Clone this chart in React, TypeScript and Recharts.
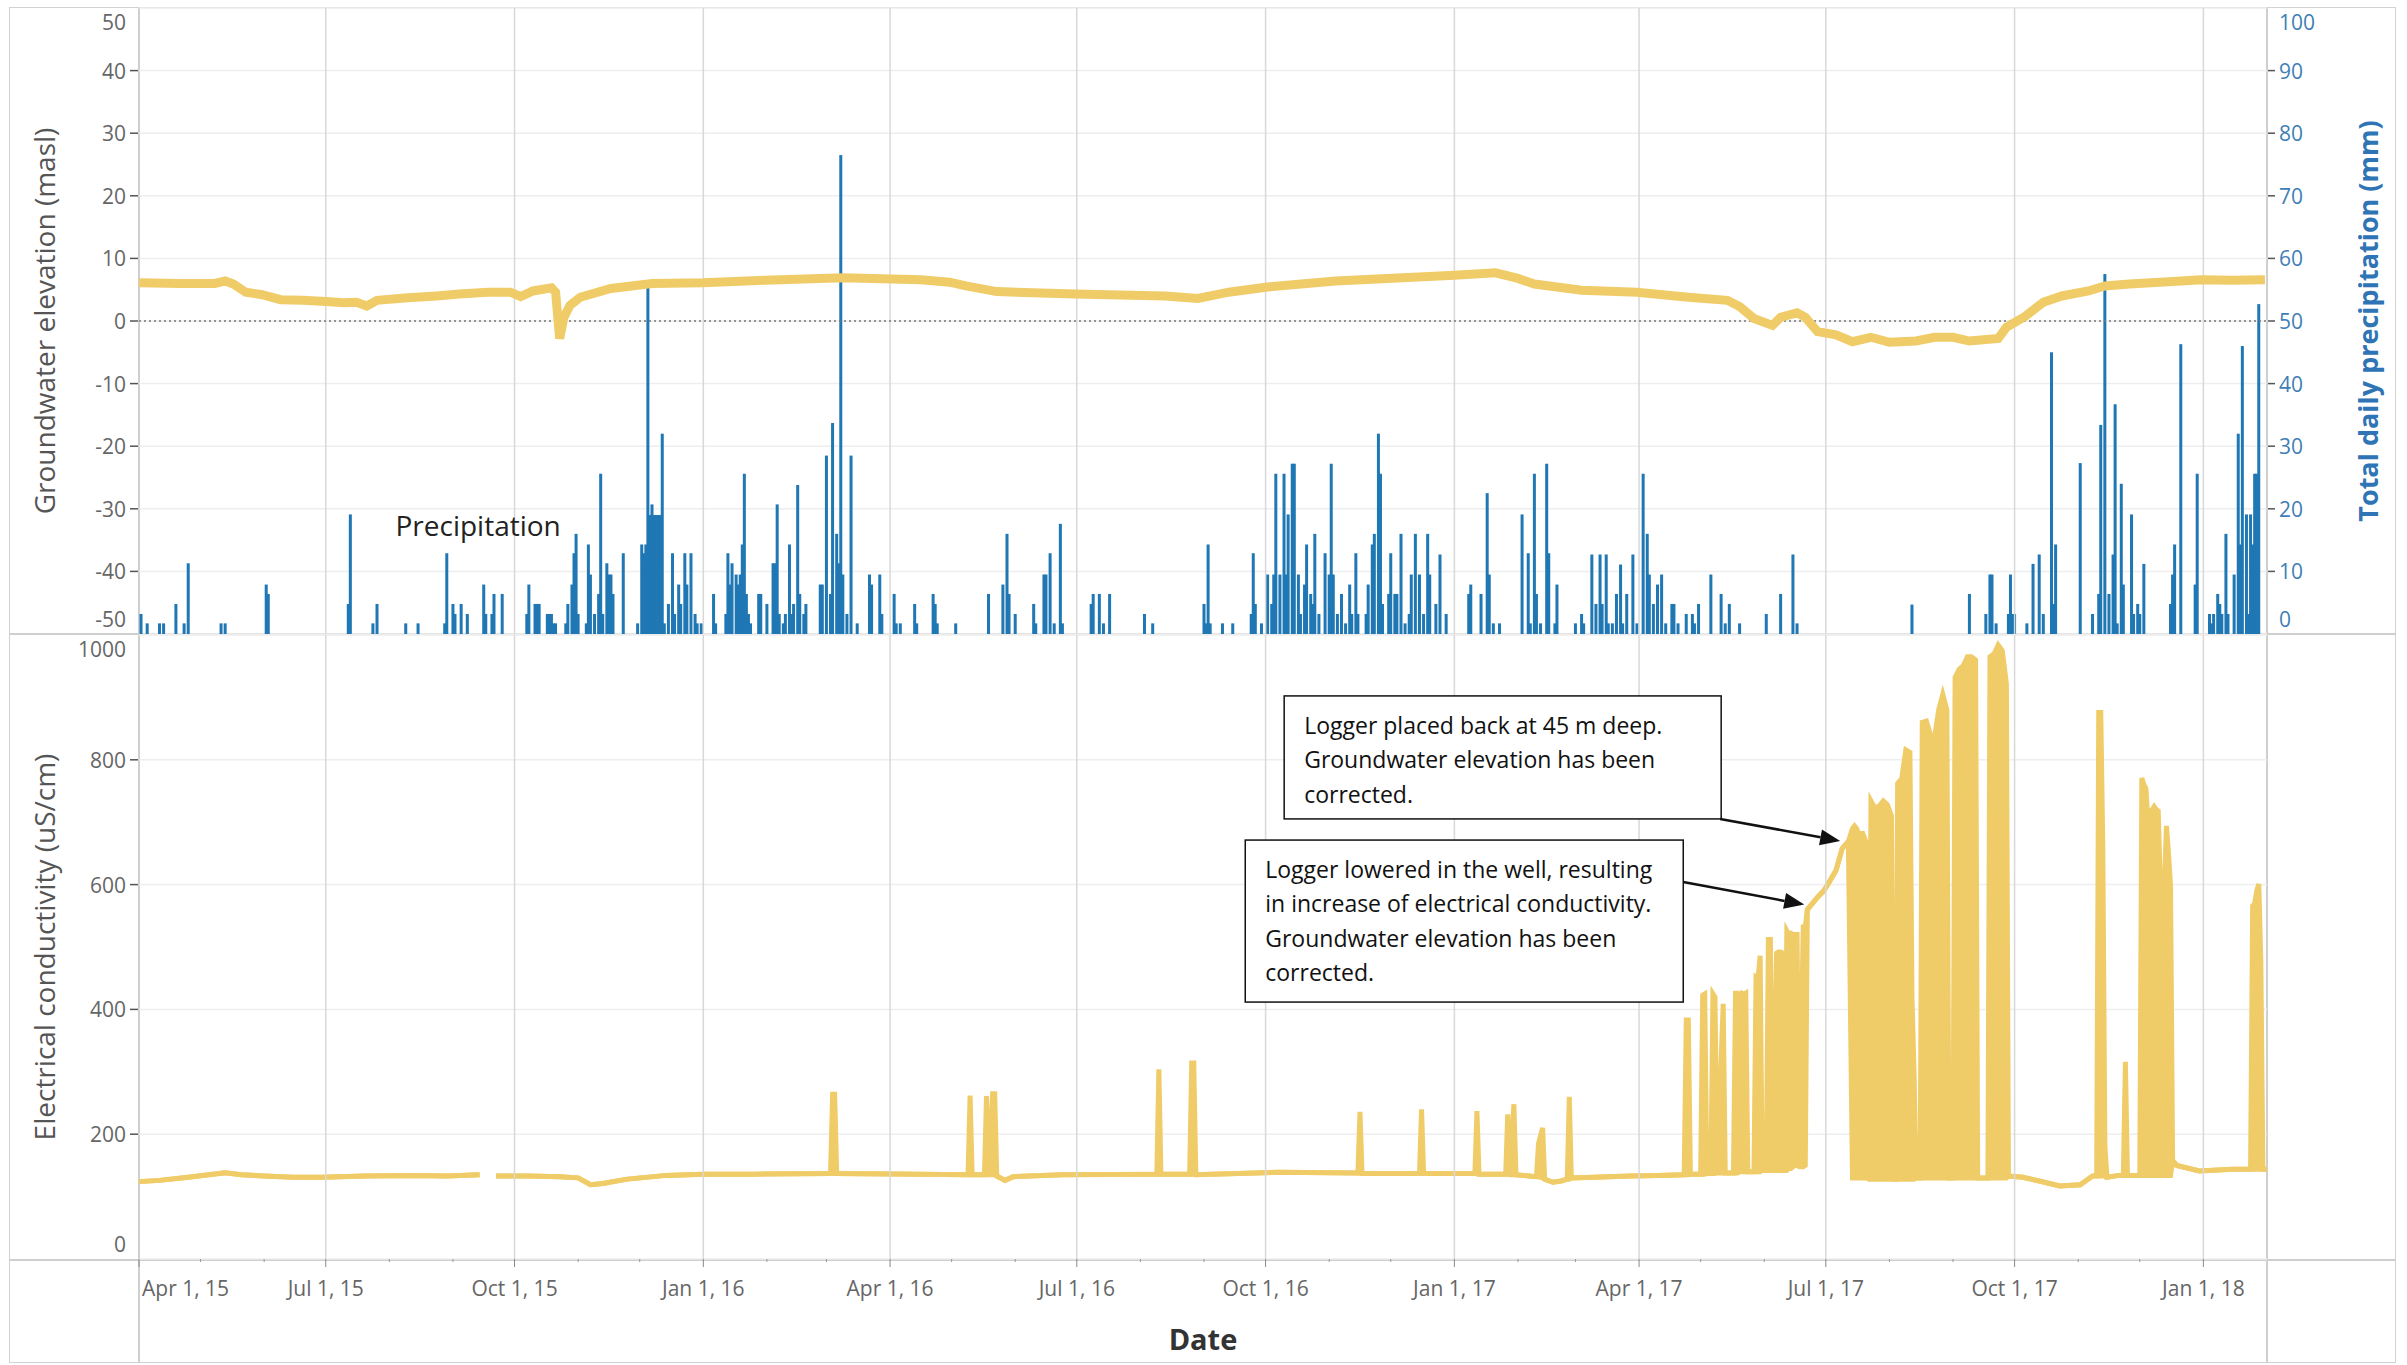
import React from 'react'
import { ComposedChart, Line, Bar, Area, XAxis, YAxis, CartesianGrid, ReferenceLine, ReferenceDot } from 'recharts'

// all x values are days counted from Apr 1, 2015
const START = '2015-04-01'
const END = '2018-02-01'
const dayOf = (iso: string) => Math.round((Date.parse(iso) - Date.parse(START)) / 86400000)

const QUARTER_DATES = ['2015-04-01', '2015-07-01', '2015-10-01', '2016-01-01', '2016-04-01', '2016-07-01', '2016-10-01', '2017-01-01', '2017-04-01', '2017-07-01', '2017-10-01', '2018-01-01']
const QUARTER_LABELS = ['Apr 1, 15', 'Jul 1, 15', 'Oct 1, 15', 'Jan 1, 16', 'Apr 1, 16', 'Jul 1, 16', 'Oct 1, 16', 'Jan 1, 17', 'Apr 1, 17', 'Jul 1, 17', 'Oct 1, 17', 'Jan 1, 18']

const GW_TICKS = [-50, -40, -30, -20, -10, 0, 10, 20, 30, 40, 50]
const PRECIP_TICKS = [0, 10, 20, 30, 40, 50, 60, 70, 80, 90, 100]
const EC_TICKS = [0, 200, 400, 600, 800, 1000]

// groundwater elevation (masl)
const GW_DAY = [0, 20, 37, 42, 46, 52, 60, 69, 80, 91, 100, 106, 111, 116, 131, 145, 156, 170, 181, 186, 192, 201, 203, 205, 207, 210, 215, 230, 250, 275, 305, 343, 381, 395, 403, 418, 456, 500, 516, 531, 549, 583, 641, 661, 672, 680, 703, 730, 755, 774, 780, 787, 796, 800, 808, 812, 818, 827, 835, 844, 853, 866, 875, 884, 892, 906, 910, 919, 928, 937, 950, 958, 970, 991, 1005, 1020, 1036]
const GW_MASL = [6.1, 6.0, 6.0, 6.4, 5.9, 4.6, 4.2, 3.4, 3.3, 3.1, 2.9, 3.0, 2.4, 3.3, 3.7, 4.0, 4.3, 4.6, 4.6, 3.9, 4.8, 5.3, 4.6, -2.8, 0.5, 2.5, 3.8, 5.2, 6.0, 6.1, 6.5, 6.9, 6.6, 6.2, 5.6, 4.7, 4.3, 4.0, 3.6, 4.6, 5.4, 6.4, 7.3, 7.7, 6.8, 5.9, 4.9, 4.6, 3.8, 3.3, 2.3, 0.4, -0.7, 0.6, 1.3, 0.6, -1.7, -2.2, -3.3, -2.6, -3.4, -3.2, -2.6, -2.6, -3.2, -2.8, -1.0, 0.7, 3.0, 4.0, 4.8, 5.6, 5.9, 6.3, 6.6, 6.5, 6.6]

// total daily precipitation (mm)
const PRECIP_DAY = [1, 4, 10, 12, 18, 22, 24, 40, 42, 62, 63, 102, 103, 114, 116, 130, 136, 149, 150, 153, 154, 157, 160, 168, 169, 172, 173, 177, 189, 190, 193, 194, 195, 199, 200, 201, 202, 203, 208, 209, 211, 212, 213, 214, 218, 219, 220, 222, 224, 225, 226, 228, 229, 230, 231, 236, 243, 245, 246, 247, 248, 249, 250, 251, 252, 253, 254, 255, 256, 258, 260, 261, 263, 264, 266, 267, 269, 271, 272, 274, 280, 281, 286, 287, 288, 289, 291, 292, 293, 294, 295, 296, 297, 298, 302, 303, 306, 309, 310, 311, 312, 314, 315, 317, 318, 319, 321, 322, 324, 325, 332, 333, 335, 337, 338, 340, 341, 342, 343, 345, 347, 350, 356, 357, 361, 362, 368, 369, 371, 378, 379, 387, 388, 389, 398, 414, 421, 423, 424, 427, 436, 437, 441, 442, 444, 446, 449, 450, 464, 465, 468, 470, 473, 490, 494, 519, 520, 521, 522, 528, 533, 542, 543, 544, 547, 550, 552, 553, 554, 556, 558, 559, 560, 562, 563, 565, 566, 568, 569, 571, 572, 573, 575, 578, 580, 581, 582, 584, 586, 588, 590, 591, 593, 594, 598, 599, 601, 602, 604, 605, 606, 609, 610, 612, 613, 615, 617, 619, 620, 622, 624, 626, 628, 629, 632, 634, 637, 648, 649, 654, 657, 658, 660, 663, 674, 677, 678, 680, 681, 683, 686, 687, 690, 691, 700, 703, 704, 708, 710, 712, 713, 715, 716, 718, 720, 722, 723, 725, 728, 730, 733, 735, 736, 738, 740, 742, 744, 747, 748, 750, 754, 757, 758, 760, 766, 771, 773, 775, 780, 793, 800, 806, 808, 864, 892, 900, 902, 903, 905, 911, 912, 913, 914, 920, 923, 926, 928, 932, 933, 934, 946, 952, 955, 956, 958, 960, 962, 963, 964, 966, 967, 971, 972, 974, 975, 977, 990, 991, 992, 995, 1002, 1003, 1009, 1010, 1011, 1013, 1014, 1015, 1017, 1018, 1021, 1023, 1024, 1025, 1027, 1028, 1029, 1030, 1031, 1032, 1033]
const PRECIP_MM = [3.2, 1.7, 1.7, 1.7, 4.8, 1.7, 11.3, 1.7, 1.7, 7.9, 6.4, 4.8, 19.1, 1.7, 4.8, 1.7, 1.7, 1.7, 12.9, 4.8, 3.2, 4.8, 3.2, 7.9, 3.2, 3.2, 6.4, 6.4, 3.2, 7.9, 4.8, 4.8, 4.8, 3.2, 3.2, 3.2, 1.7, 1.7, 1.7, 4.8, 7.9, 12.9, 16, 3.2, 1.7, 14.3, 9.5, 3.2, 6.4, 25.6, 3.2, 11.3, 9.5, 9.5, 6.4, 12.9, 1.7, 14.3, 12.9, 14.3, 56, 19, 20.7, 19, 19, 19, 19, 32, 1.7, 4.8, 12.9, 3.2, 7.9, 4.8, 12.9, 7.9, 12.9, 3.2, 1.7, 1.7, 6.4, 1.7, 3.2, 12.9, 7.9, 11.3, 9.5, 7.9, 9.5, 14.3, 25.6, 6.4, 3.2, 1.7, 6.4, 6.4, 4.8, 11.3, 11.3, 20.7, 3.2, 1.7, 3.2, 14.3, 3.2, 4.8, 23.8, 6.4, 3.2, 4.8, 7.9, 7.9, 28.5, 6.4, 33.7, 16, 11.3, 76.5, 9.5, 3.2, 28.5, 1.7, 9.5, 7.9, 9.5, 3.2, 6.4, 1.7, 1.7, 4.8, 1.7, 6.4, 4.8, 1.7, 1.7, 6.4, 7.9, 16, 6.4, 3.2, 4.8, 1.7, 9.5, 9.5, 12.9, 1.7, 17.6, 1.7, 4.8, 6.4, 6.4, 1.7, 6.4, 3.2, 1.7, 4.8, 1.7, 14.3, 1.7, 1.7, 1.7, 3.2, 12.9, 4.8, 1.7, 9.5, 4.8, 9.5, 25.6, 9.5, 25.6, 9.5, 19.1, 27.2, 27.2, 9.5, 3.2, 7.9, 14.3, 6.4, 4.8, 16, 3.2, 12.9, 9.5, 27.2, 9.5, 3.2, 6.4, 1.7, 7.9, 3.2, 12.9, 3.2, 3.2, 7.9, 14.3, 16, 32, 25.6, 4.8, 6.4, 12.9, 6.4, 6.4, 16, 1.7, 3.2, 9.5, 16, 9.5, 3.2, 16, 9.5, 4.8, 12.7, 3.2, 6.4, 7.9, 6.4, 22.5, 9.5, 1.7, 1.7, 19.1, 12.9, 1.7, 25.6, 6.4, 1.7, 27.2, 12.9, 1.7, 7.9, 1.7, 3.2, 1.7, 12.7, 4.8, 12.7, 4.8, 12.7, 1.7, 1.7, 6.4, 11.1, 1.7, 6.4, 12.7, 1.7, 25.6, 16, 9.5, 4.8, 7.9, 9.5, 1.7, 4.8, 4.8, 1.7, 3.2, 3.2, 1.7, 4.8, 9.5, 6.4, 1.7, 4.8, 1.7, 3.2, 6.4, 12.7, 1.7, 4.7, 6.4, 3.2, 9.5, 9.5, 1.7, 3.2, 9.5, 3.2, 3.2, 1.7, 11.2, 12.7, 3.2, 45, 4.8, 14.3, 27.3, 3.2, 6.4, 33.4, 57.5, 6.4, 12.7, 36.7, 1.7, 24, 7.9, 19.1, 3.2, 4.8, 3.2, 11.2, 4.8, 9.5, 14.3, 46.3, 7.9, 25.6, 3.2, 1.7, 3.2, 6.4, 4.8, 3.2, 16, 3.2, 9.5, 32, 14.3, 46, 19.1, 3.2, 19.1, 14.3, 25.6, 25.6, 52.7]

// electrical conductivity (uS/cm): low / high reading of the day (high null = single reading)
const EC_DAY = [0, 10, 24, 42, 50, 61, 75, 89, 110, 135, 150, 166, 167, 173, 174, 190, 205, 214, 220, 226, 238, 257, 275, 300, 337, 338, 339, 340, 380, 404, 405, 406, 412, 413, 414, 416, 417, 418, 422, 426, 450, 496, 497, 498, 512, 513, 514, 515, 555, 594, 595, 596, 624, 625, 626, 651, 652, 653, 666, 667, 668, 670, 671, 681, 682, 684, 685, 689, 693, 696, 697, 698, 709, 727, 740, 753, 754, 755, 756, 761, 762, 763, 764, 766, 767, 768, 769, 772, 773, 777, 778, 779, 780, 781, 782, 783, 784, 787, 788, 789, 790, 791, 793, 794, 795, 796, 798, 799, 800, 801, 802, 803, 804, 805, 806, 807, 808, 809, 811, 812, 813, 815, 818, 821, 824, 827, 830, 833, 835, 836, 837, 838, 840, 842, 843, 844, 846, 848, 850, 852, 854, 855, 856, 857, 859, 861, 863, 864, 865, 866, 868, 869, 871, 873, 875, 877, 879, 881, 882, 884, 885, 887, 889, 891, 893, 895, 896, 901, 902, 904, 906, 908, 910, 911, 918, 926, 936, 946, 952, 954, 955, 956, 957, 958, 959, 965, 967, 968, 969, 975, 976, 977, 978, 979, 980, 981, 982, 983, 984, 985, 986, 987, 988, 989, 990, 991, 993, 1004, 1020, 1029, 1030, 1031, 1032, 1033, 1034, 1035, 1037]
const EC_LOW = [124, 126, 131, 138, 135, 133, 131, 131, 133, 134, 133, 135, null, null, 133, 133, 132, 130, 119, 121, 128, 134, 136, 136, 137, 137, 137, 137, 136, 135, 135, 135, 135, 135, 135, 135, 135, 133, 126, 132, 135, 136, 136, 136, 136, 136, 136, 135, 139, 138, 138, 137, 137, 137, 137, 137, 137, 136, 136, 136, 135, 135, 135, 132, 132, 130, 128, 123, 125, 128, 128, 130, 131, 133, 134, 135, 135, 135, 136, 136, 136, 136, 137, 137, 137, 137, 138, 138, 138, 138, 138, 138, 140, 140, 140, 140, 140, 140, 140, 140, 140, 142, 142, 142, 142, 142, 142, 142, 142, 142, 142, 142, 145, 145, 148, 150, 150, 148, 148, 150, 560, 568, 580, 590, 606, 623, 658, 669, 130, 130, 130, 130, 130, 130, 128, 128, 128, 128, 128, 128, 128, 128, 128, 128, 128, 128, 128, 128, 128, 130, 130, 130, 130, 130, 130, 130, 130, 130, 130, 130, 130, 130, 130, 130, 130, 130, 130, 130, 130, 130, 130, 130, 130, 133, 131, 125, 117, 119, 133, 133, 133, 133, 133, 133, 131, 134, 134, 134, 134, 134, 134, 134, 134, 134, 134, 134, 134, 134, 134, 134, 134, 134, 134, 134, 134, 158, 150, 141, 144, 144, 144, 144, 144, 144, 144, 144, 144]
const EC_HIGH = [null, null, null, null, null, null, null, null, null, null, null, null, null, null, null, null, null, null, null, null, null, null, null, null, null, 264, 264, null, null, null, 262, null, null, 261, null, 265, 265, null, null, null, null, null, 304, null, null, 314, 314, null, null, null, 236, null, null, 240, null, null, 237, null, null, 232, null, 248, null, null, 185, 210, null, null, null, null, 260, null, null, null, null, null, 383, 383, null, null, 423, 425, null, null, 425, 420, null, 409, null, null, 426, 426, 420, 426, 424, 426, null, null, 452, 450, 486, null, null, 512, 512, null, 490, 492, 492, 490, null, 526, 520, 522, 520, 520, 520, null, 532, 532, null, null, null, null, null, null, null, null, 690, 694, 690, 682, 682, 665, null, 734, 722, 726, 734, 728, 710, null, null, 762, 770, 816, 812, 420, 300, null, null, 860, 862, 840, 836, 880, 905, 880, null, null, 932, 945, 951, 965, 965, 960, null, null, 965, 970, 984, 975, 922, null, null, null, null, null, null, null, 876, 876, 658, 182, null, null, null, 316, null, null, 771, 760, 754, 700, 541, 720, 725, 720, 718, 600, 556, 600, 694, 650, 597, null, null, null, null, null, 566, 570, 590, 601, 476, null, null]

const X_END = dayOf(END)
const QUARTER_DAYS = QUARTER_DATES.map(dayOf)
const MONTH_DAYS: number[] = []
for (let y = 2015, m = 3; y < 2018 || m < 1; m++) {
  if (m > 11) { m = 0; y++ }
  MONTH_DAYS.push(Math.round((Date.UTC(y, m, 1) - Date.parse(START)) / 86400000))
  if (y === 2018 && m === 0) break
}

const topMap = new Map<number, any>()
GW_DAY.forEach((d, i) => topMap.set(d, { ...(topMap.get(d) || { day: d }), gw: GW_MASL[i] }))
PRECIP_DAY.forEach((d, i) => topMap.set(d, { ...(topMap.get(d) || { day: d }), precip: PRECIP_MM[i] }))
const topRows = Array.from(topMap.values()).sort((a, b) => a.day - b.day)

const ecRows = EC_DAY.map((d, i) => ({
  day: d,
  ec: EC_LOW[i] == null ? null : [EC_LOW[i], EC_HIGH[i] ?? EC_LOW[i]],
}))

const YELLOW = '#f0cc68'
const BLUE = '#1f77b4'
const FONT = '"Open Sans", "Noto Sans", sans-serif'
const GRID_V = '#d8d8d8'

const leftTick = (min: number, max: number) => (props: any) => {
  const { x, y, payload } = props
  const v = payload.value
  const dy = v === max ? 14 : v === min ? -15 : 0
  return (
    <g>
      {dy === 0 && <line x1={x - 9} x2={x - 1} y1={y} y2={y} stroke="#555" strokeWidth={1.5} />}
      <text x={x - 13} y={y + dy} textAnchor="end" dominantBaseline="central" fontSize={21} fill="#666" fontFamily={FONT}>{v}</text>
    </g>
  )
}

const rightTick = (props: any) => {
  const { x, y, payload } = props
  const v = payload.value
  const dy = v === 100 ? 14 : v === 0 ? -15 : 0
  return (
    <g>
      {dy === 0 && <line x1={x + 1} x2={x + 8} y1={y} y2={y} stroke="#555" strokeWidth={1.5} />}
      <text x={x + 12} y={y + dy} textAnchor="start" dominantBaseline="central" fontSize={21} fill="#3f7fb5" fontFamily={FONT}>{v}</text>
    </g>
  )
}

const dateTick = (props: any) => {
  const { x, y, payload } = props
  const qi = QUARTER_DAYS.indexOf(payload.value)
  if (qi < 0) return <line x1={x} x2={x} y1={y} y2={y + 3} stroke="#999" strokeWidth={1} />
  return (
    <g>
      <line x1={x} x2={x} y1={y} y2={y + 8} stroke="#888" strokeWidth={1} />
      <text x={qi === 0 ? x + 3 : x} y={y + 29} textAnchor={qi === 0 ? 'start' : 'middle'} dominantBaseline="central" fontSize={21} fill="#666" fontFamily={FONT}>
        {QUARTER_LABELS[qi]}
      </text>
    </g>
  )
}

const vTitle = (text: string, dx: number, color: string, weight: number, size: number) => (props: any) => {
  const vb = props.viewBox || { x: 0, y: 0, height: 0 }
  const cx = vb.x + dx
  const cy = vb.y + vb.height / 2
  return (
    <text x={cx} y={cy} transform={`rotate(-90 ${cx} ${cy})`} textAnchor="middle" dominantBaseline="central" fontSize={size} fontWeight={weight} fill={color} fontFamily={FONT}>
      {text}
    </text>
  )
}

const dateTitle = (props: any) => {
  const vb = props.viewBox || { x: 0, y: 0, width: 0 }
  return (
    <text x={vb.x + vb.width / 2} y={vb.y + 79} textAnchor="middle" dominantBaseline="central" fontSize={29} fontWeight={700} fill="#333" fontFamily={FONT}>
      Date
    </text>
  )
}

// daily bars: keep the library's x / y / height, only widen the stick a little
const PrecipBar = (p: any) => {
  if (!p.height || p.height <= 0) return null
  return <rect x={p.x + p.width / 2 - 1.5} y={p.y} width={3} height={p.height} fill={BLUE} />
}

function Callout({ cx, cy, lines, box }: { cx: number; cy: number; lines: string[]; box: { dx: number; dy: number; w: number; h: number; ax: number; ay: number } }) {
  const sx = cx + box.ax
  const sy = cy + box.ay
  const len = Math.hypot(cx - sx, cy - sy)
  const ux = (cx - sx) / len
  const uy = (cy - sy) / len
  const hb = 20
  const hw = 8
  const bx = cx - ux * hb
  const by = cy - uy * hb
  return (
    <g>
      <rect x={cx + box.dx} y={cy + box.dy} width={box.w} height={box.h} fill="#fff" stroke="#111" strokeWidth={1.5} />
      {lines.map((t, i) => (
        <text key={i} x={cx + box.dx + 20} y={cy + box.dy + 29 + i * 34.3} dominantBaseline="central" fontSize={23} fill="#111" fontFamily={FONT}>{t}</text>
      ))}
      <line x1={sx} y1={sy} x2={bx} y2={by} stroke="#111" strokeWidth={2.5} />
      <polygon points={`${cx},${cy} ${bx - uy * hw},${by + ux * hw} ${bx + uy * hw},${by - ux * hw}`} fill="#111" />
    </g>
  )
}

const paneLine = (style: React.CSSProperties) => <div style={{ position: 'absolute', background: '#cfcfcf', ...style }} />

export default function App() {
  return (
    <div style={{ position: 'absolute', left: 0, top: 0, width: 2407, height: 1365, background: '#fff', fontFamily: FONT }}>
      <div style={{ position: 'absolute', left: 9, top: 7, width: 2387, height: 1356, border: '1.5px solid #d2d2d2', boxSizing: 'border-box' }} />
      {paneLine({ left: 9, top: 633, width: 2387, height: 2 })}
      {paneLine({ left: 9, top: 1259, width: 2387, height: 2 })}
      {paneLine({ left: 138, top: 7, width: 1.5, height: 1356 })}
      {paneLine({ left: 2266, top: 7, width: 1.5, height: 1356 })}

      <div style={{ position: 'absolute', left: 0, top: 0 }}>
        <ComposedChart width={2407} height={636} data={topRows} margin={{ top: 8, right: 0, bottom: 2, left: 0 }}>
          <CartesianGrid vertical={false} stroke="#eeeeee" strokeWidth={1.5} />
          <XAxis type="number" dataKey="day" domain={[0, X_END]} ticks={QUARTER_DAYS} hide />
          <YAxis domain={[-50, 50]} ticks={GW_TICKS} width={139} axisLine={false} tickLine={false} tickSize={0} tickMargin={0} interval={0} tick={leftTick(-50, 50)}
            label={{ content: vTitle('Groundwater elevation (masl)', 44, '#555', 400, 28) }} />
          <YAxis yAxisId="precip" orientation="right" domain={[0, 100]} ticks={PRECIP_TICKS} width={140} axisLine={false} tickLine={false} tickSize={0} tickMargin={0} interval={0} tick={rightTick}
            label={{ content: vTitle('Total daily precipitation (mm)', 100, '#2f75b5', 700, 27) }} />
          {QUARTER_DAYS.slice(1).map((d) => (
            <ReferenceLine key={d} x={d} stroke={GRID_V} strokeWidth={1.5} />
          ))}
          <Bar yAxisId="precip" dataKey="precip" fill={BLUE} barSize={2} shape={PrecipBar} isAnimationActive={false} />
          <ReferenceLine y={0} stroke="#777" strokeWidth={1.5} strokeDasharray="2 3" />
          <Line dataKey="gw" stroke={YELLOW} strokeWidth={9} dot={false} connectNulls type="linear" isAnimationActive={false} />
          <ReferenceDot x={125} y={-32.6} r={0} shape={(p: any) => (
            <text x={p.cx} y={p.cy} dominantBaseline="central" fontSize={28} fill="#222" fontFamily={FONT}>Precipitation</text>
          )} />
        </ComposedChart>
      </div>

      <div style={{ position: 'absolute', left: 0, top: 634 }}>
        <ComposedChart width={2407} height={731} data={ecRows} margin={{ top: 1, right: 140, bottom: 0, left: 0 }}>
          <CartesianGrid vertical={false} stroke="#eeeeee" strokeWidth={1.5} />
          <XAxis type="number" dataKey="day" domain={[0, X_END]} ticks={MONTH_DAYS} interval={0} height={106} axisLine={false} tickLine={false} tickSize={0} tickMargin={0} tick={dateTick}
            label={{ content: dateTitle }} />
          <YAxis domain={[0, 1000]} ticks={EC_TICKS} width={139} axisLine={false} tickLine={false} tickSize={0} tickMargin={0} interval={0} tick={leftTick(0, 1000)}
            label={{ content: vTitle('Electrical conductivity (uS/cm)', 44, '#555', 400, 28) }} />
          {QUARTER_DAYS.slice(1).map((d) => (
            <ReferenceLine key={d} x={d} stroke={GRID_V} strokeWidth={1.5} />
          ))}
          <Area dataKey="ec" type="linear" stroke={YELLOW} strokeWidth={5} fill={YELLOW} fillOpacity={1} dot={false} activeDot={false} isAnimationActive={false} />
          <ReferenceDot x={829} y={670} r={0} shape={(p: any) => (
            <Callout cx={p.cx} cy={p.cy} lines={['Logger placed back at 45 m deep.', 'Groundwater elevation has been', 'corrected.']}
              box={{ dx: -556, dy: -145, w: 437, h: 123, ax: -120, ay: -22 }} />
          )} />
          <ReferenceDot x={811.5} y={568} r={0} shape={(p: any) => (
            <Callout cx={p.cx} cy={p.cy} lines={['Logger lowered in the well, resulting', 'in increase of electrical conductivity.', 'Groundwater elevation has been', 'corrected.']}
              box={{ dx: -559, dy: -64.5, w: 438, h: 162, ax: -121, ay: -22.5 }} />
          )} />
        </ComposedChart>
      </div>
    </div>
  )
}
